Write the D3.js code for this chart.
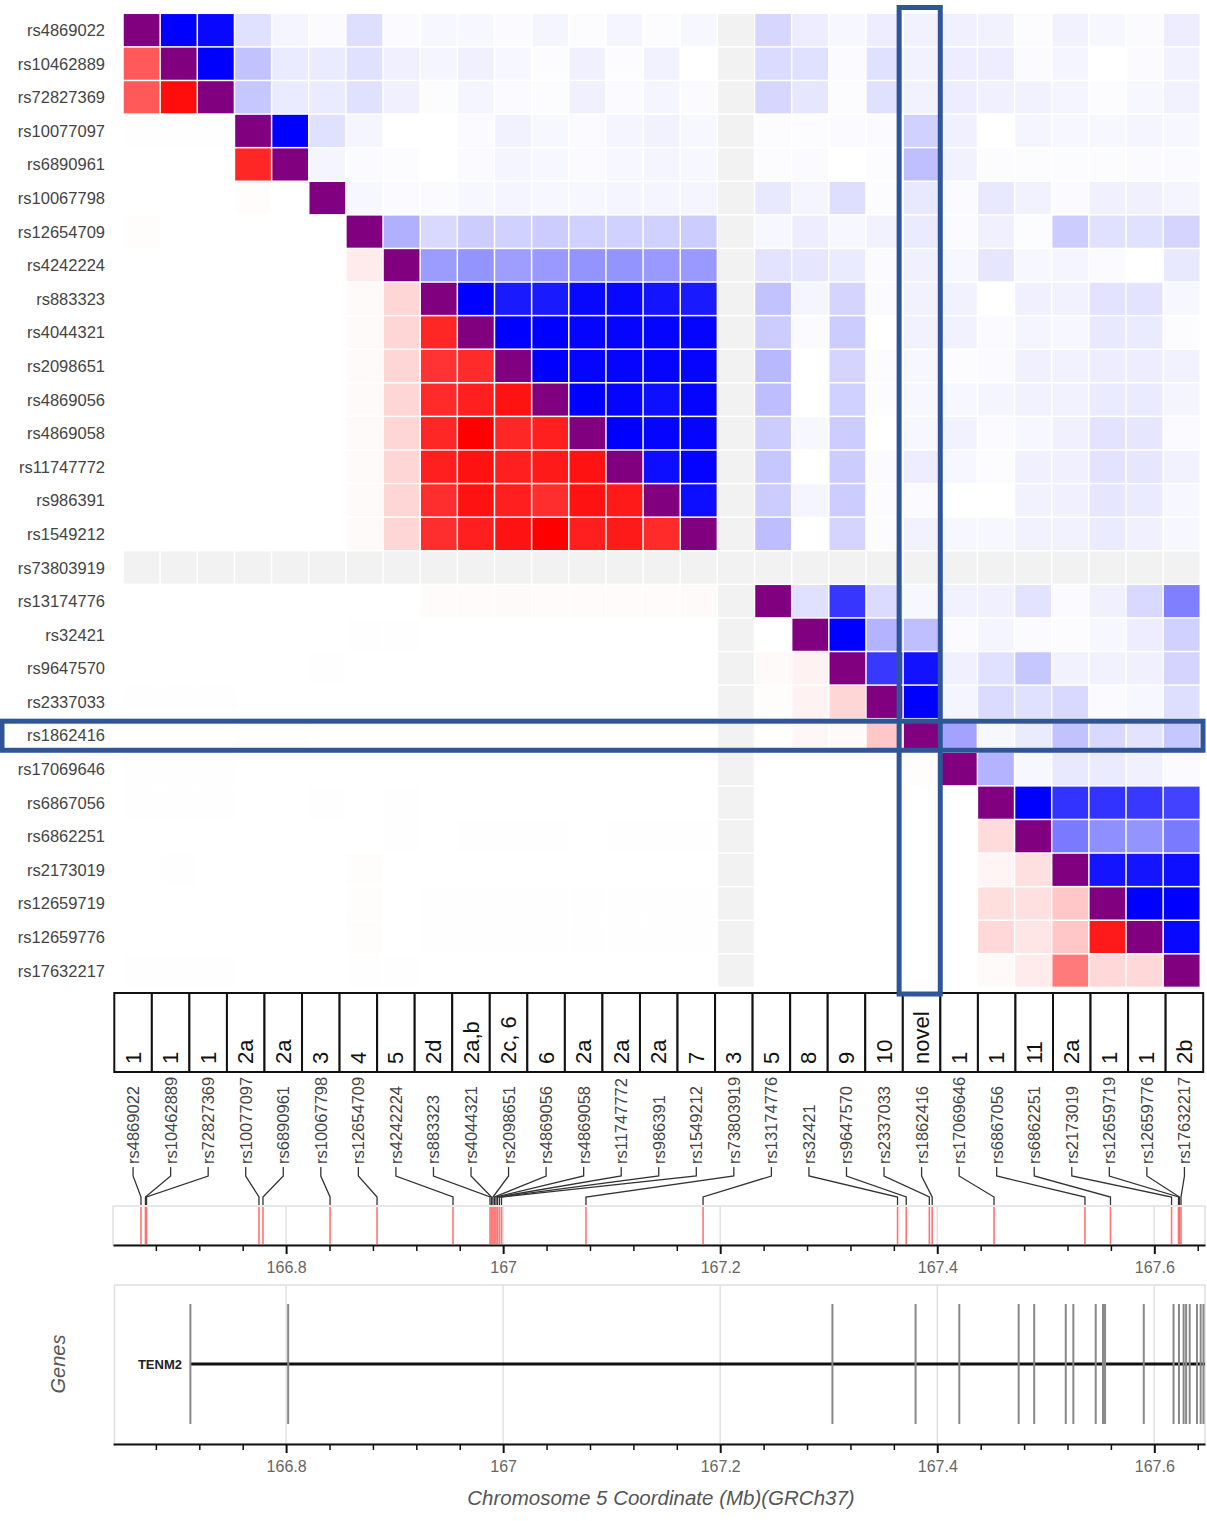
<!DOCTYPE html>
<html>
<head>
<meta charset="utf-8">
<script src="https://cdn.jsdelivr.net/npm/d3@7"></script>
<style>
  body { margin: 0; background: #fff; }
  text { font-family: "Liberation Sans", Arial, Helvetica, sans-serif; }
</style>
</head>
<body>
<svg id="chart" width="1207" height="1521"></svg>
<script>
// ---- SNPs in chromosome order ----
const snps = ["rs4869022","rs10462889","rs72827369","rs10077097","rs6890961","rs10067798",
  "rs12654709","rs4242224","rs883323","rs4044321","rs2098651","rs4869056","rs4869058",
  "rs11747772","rs986391","rs1549212","rs73803919","rs13174776","rs32421","rs9647570",
  "rs2337033","rs1862416","rs17069646","rs6867056","rs6862251","rs2173019","rs12659719",
  "rs12659776","rs17632217"];

// position of each SNP, Mb (GRCh37, chr5)
const snpPos = [166.6663,166.6704,166.6714,166.7750,166.7787,166.8405,166.8838,166.9538,
  166.9879,166.9893,166.9906,166.9920,166.9934,166.9948,166.9966,166.9985,167.0763,
  167.1842,167.3634,167.3714,167.3927,167.3953,167.4523,167.5361,167.5596,167.6159,
  167.6223,167.6232,167.6246];

// reported source / signal for each SNP
const sources = ["1","1","1","2a","2a","3","4","5","2d","2a,b","2c, 6","6","2a","2a","2a","7",
  "3","5","8","9","10","novel","1","1","11","2a","1","1","2b"];

// pairwise LD: above the diagonal D' (blue), below the diagonal r² (red); null = not available
const N = null, D = 1;
const ldMatrix = [
  [D,1.0,0.97,0.12,0.04,0.02,0.13,0.02,0.03,0.03,0.02,0.04,0.01,0.04,0.01,0.03,N,0.16,0.07,0.03,0.07,0.05,0.06,0.05,0.01,0.05,0.03,0.02,0.07],
  [0.65,D,1.0,0.24,0.08,0.08,0.12,0.06,0.04,0.06,0.03,0.01,0.06,0.01,0.05,0.0,N,0.14,0.12,0.02,0.12,0.05,0.07,0.07,0.02,0.04,0.0,0.02,0.05],
  [0.65,0.95,D,0.22,0.08,0.08,0.12,0.06,0.01,0.04,0.02,0.01,0.06,0.02,0.04,0.02,N,0.16,0.10,0.01,0.12,0.05,0.07,0.06,0.05,0.04,0.01,0.03,0.05],
  [0.005,0.005,0.005,D,1.0,0.12,0.04,0.0,0.0,0.02,0.05,0.03,0.02,0.04,0.05,0.03,N,0.01,0.01,0.02,0.02,0.18,0.06,0.0,0.04,0.03,0.03,0.04,0.03],
  [0,0,0,0.85,D,0.04,0.02,0.01,0.0,0.02,0.04,0.03,0.02,0.03,0.04,0.03,N,0.01,0.02,0.0,0.01,0.25,0.05,0.01,0.01,0.01,0.01,0.02,0.02],
  [0,0,0,0.01,0,D,0.03,0.02,0.02,0.03,0.04,0.03,0.03,0.04,0.04,0.04,N,0.09,0.04,0.13,0.01,0.09,0.02,0.09,0.05,0.02,0.06,0.06,0.04],
  [0.01,0,0,0,0,0,D,0.31,0.15,0.20,0.18,0.20,0.18,0.18,0.18,0.20,N,0.03,0.07,0.03,0.05,0.08,0.02,0.06,0.01,0.20,0.12,0.12,0.17],
  [0,0,0,0,0,0,0.08,D,0.39,0.42,0.38,0.40,0.42,0.42,0.40,0.40,N,0.11,0.10,0.08,0.02,0.06,0.03,0.10,0.03,0.04,0.02,0.0,0.09],
  [0,0,0,0,0,0,0.02,0.16,D,1.0,0.90,0.90,0.97,0.97,0.92,0.90,N,0.24,0.04,0.17,0.02,0.05,0.05,0.0,0.06,0.05,0.11,0.11,0.03],
  [0,0,0,0,0,0,0.02,0.16,0.85,D,1.0,1.0,0.98,0.98,0.98,0.98,N,0.20,0.02,0.20,0.0,0.05,0.05,0.02,0.04,0.03,0.09,0.08,0.01],
  [0,0,0,0,0,0,0.02,0.16,0.80,0.83,D,1.0,0.98,0.98,0.98,0.98,N,0.28,0.0,0.17,0.01,0.03,0.01,0.02,0.06,0.05,0.07,0.07,0.05],
  [0,0,0,0,0,0,0.02,0.16,0.83,0.88,0.93,D,1.0,0.98,0.94,0.98,N,0.26,0.0,0.18,0.01,0.03,0.03,0.04,0.05,0.05,0.08,0.08,0.04],
  [0,0,0,0,0,0,0.02,0.16,0.85,1.0,0.85,0.88,D,1.0,0.98,0.98,N,0.20,0.03,0.20,0.0,0.03,0.05,0.02,0.03,0.06,0.11,0.10,0.02],
  [0,0,0,0,0,0,0.02,0.16,0.88,0.93,0.88,0.90,0.93,D,0.95,0.99,N,0.22,0.0,0.20,0.02,0.07,0.03,0.01,0.06,0.06,0.11,0.10,0.05],
  [0,0,0,0,0,0,0.02,0.16,0.82,0.93,0.88,0.82,0.93,0.90,D,0.95,N,0.20,0.04,0.20,0.01,0.02,0.0,0.0,0.05,0.06,0.10,0.08,0.03],
  [0,0,0,0,0,0,0.02,0.16,0.82,0.88,0.93,1.0,0.88,0.90,0.83,D,N,0.26,0.0,0.17,0.01,0.05,0.03,0.03,0.05,0.05,0.08,0.06,0.03],
  [N,N,N,N,N,N,N,N,N,N,N,N,N,N,N,N,N,N,N,N,N,N,N,N,N,N,N,N,N],
  [0,0,0,0,0,0,0,0,0.015,0.015,0.02,0.015,0.015,0.015,0.015,0.02,N,D,0.12,0.79,0.14,0.03,0.05,0.06,0.11,0.02,0.06,0.15,0.50],
  [0,0,0,0,0,0,0.005,0.005,0,0,0,0,0,0,0,0,N,0.0,D,1.0,0.30,0.25,0.02,0.04,0.02,0.01,0.03,0.07,0.18],
  [0,0,0,0,0,0.005,0,0,0,0,0,0,0,0,0,0,N,0.02,0.05,D,0.78,0.93,0.06,0.12,0.22,0.05,0.05,0.06,0.17],
  [0.005,0.005,0.005,0,0,0,0,0,0,0,0,0,0,0,0,0,N,0.01,0.05,0.16,D,1.0,0.04,0.14,0.12,0.15,0.02,0.03,0.13],
  [0,0,0,0.005,0.005,0,0,0,0,0,0,0,0,0,0,0,N,0.0,0.03,0.02,0.22,D,0.36,0.03,0.08,0.24,0.15,0.11,0.22],
  [0.005,0.005,0.005,0,0,0,0,0,0,0,0,0,0,0,0,0,N,0,0,0,0,0.01,D,0.30,0.03,0.09,0.08,0.06,0.02],
  [0.005,0.005,0.005,0,0,0.005,0,0.005,0,0,0,0,0,0,0,0,N,0,0,0,0,0,0.0,D,1.0,0.80,0.80,0.78,0.74],
  [0,0,0,0,0,0,0,0.005,0,0.005,0.005,0.005,0,0.005,0.005,0.005,N,0,0,0,0,0,0.0,0.14,D,0.52,0.44,0.42,0.52],
  [0,0.005,0,0,0,0,0.01,0,0,0,0,0,0,0,0,0,N,0,0,0,0,0,0,0.04,0.12,D,0.92,0.92,0.94],
  [0,0,0,0,0,0,0.01,0,0.005,0.005,0.005,0.005,0.005,0.005,0.005,0.005,N,0,0,0,0,0,0,0.13,0.12,0.22,D,1.0,1.0],
  [0,0,0,0,0,0,0.01,0,0.005,0.005,0.005,0.005,0.005,0.005,0.005,0.005,N,0,0,0,0,0,0,0.15,0.10,0.22,0.90,D,0.97],
  [0.005,0.005,0.005,0,0,0,0.005,0.005,0,0,0,0,0,0,0,0,N,0,0,0,0,0,0,0.02,0.08,0.52,0.15,0.15,D]
];

// gene track
const geneName = "TENM2";
const geneStart = 166.7114;
const geneEnd = 167.70;
const exons = [166.7118,166.8019,167.3034,167.3800,167.4203,167.4750,167.4893,167.5184,
  167.5254,167.5460,167.5527,167.5546,167.5903,167.6177,167.6227,167.6270,167.6293,
  167.6326,167.6393,167.6427,167.6453];

// axis ticks (Mb)
const majorTicks = [166.8, 167.0, 167.2, 167.4, 167.6];
const majorTickLabels = ["166.8", "167", "167.2", "167.4", "167.6"];
const minorTicks = [166.68,166.72,166.76,166.84,166.88,166.92,166.96,167.04,167.08,167.12,
  167.16,167.24,167.28,167.32,167.36,167.44,167.48,167.52,167.56,167.64];

const highlighted = 21; // rs1862416

// ---- layout ----
const svg = d3.select("#chart");
const n = snps.length;
const idx = d3.range(n);

const xCell = d3.scaleBand().domain(idx).range([123, 1200.3]);
const yCell = d3.scaleBand().domain(idx).range([13.3, 987.4]);
const xBox = d3.scaleBand().domain(idx).range([114.3, 1203.2]);
const xMb = d3.scaleLinear().domain([166.6405, 167.6467]).range([113, 1205]).clamp(true);

const blue = d3.interpolateRgb("#ffffff", "#0000ff");
const red = d3.interpolateRgb("#ffffff", "#ff0000");
const cellColor = (v, i, j) => {
  if (v === null) return "#f2f2f2";
  if (i === j) return "#800080";
  return i < j ? blue(v) : red(v);
};

// ---- LD heatmap ----
const cells = [];
ldMatrix.forEach((row, i) => row.forEach((v, j) => cells.push({ i, j, v })));
const gap = 0.75;
svg.append("g").selectAll("rect").data(cells).join("rect")
  .attr("x", d => xCell(d.j) + gap)
  .attr("y", d => yCell(d.i) + gap)
  .attr("width", xCell.bandwidth() - 2 * gap)
  .attr("height", yCell.bandwidth() - 2 * gap)
  .attr("fill", d => cellColor(d.v, d.i, d.j));

// row labels
svg.append("g").selectAll("text").data(snps).join("text")
  .attr("x", 105)
  .attr("y", (d, i) => yCell(i) + yCell.bandwidth() / 2)
  .attr("text-anchor", "end")
  .attr("dominant-baseline", "central")
  .attr("font-size", 16.5)
  .attr("fill", "#444")
  .text(d => d);

// ---- source boxes ----
const boxTop = 993, boxH = 79;
const boxes = svg.append("g");
boxes.selectAll("rect").data(sources).join("rect")
  .attr("x", (d, i) => xBox(i))
  .attr("y", boxTop)
  .attr("width", xBox.bandwidth())
  .attr("height", boxH)
  .attr("fill", "#fff")
  .attr("stroke", "#111")
  .attr("stroke-width", 2);
boxes.selectAll("text").data(sources).join("text")
  .attr("transform", (d, i) => `translate(${xBox(i) + xBox.bandwidth() / 2},${boxTop + boxH - 8}) rotate(-90)`)
  .attr("text-anchor", "start")
  .attr("dominant-baseline", "central")
  .attr("font-size", 22)
  .attr("fill", "#111")
  .text(d => d);

// ---- SNP names under the boxes ----
svg.append("g").selectAll("text").data(snps).join("text")
  .attr("transform", (d, i) => `translate(${xBox(i) + xBox.bandwidth() / 2},1164) rotate(-90)`)
  .attr("text-anchor", "start")
  .attr("dominant-baseline", "central")
  .attr("font-size", 16.5)
  .attr("fill", "#444")
  .text(d => d);

// connectors from names to genomic positions
svg.append("g").selectAll("path").data(snps).join("path")
  .attr("d", (d, i) => {
    const cx = xBox(i) + xBox.bandwidth() / 2;
    const px = xMb(snpPos[i]);
    return `M${cx},1167 V1176 L${px},1197 V1205`;
  })
  .attr("fill", "none")
  .attr("stroke", "#333")
  .attr("stroke-width", 1.3);

// ---- SNP position track ----
const trackTop = 1206, trackBottom = 1245;
svg.append("rect")
  .attr("x", 113).attr("y", trackTop)
  .attr("width", 1092).attr("height", trackBottom - trackTop)
  .attr("fill", "#fff").attr("stroke", "#e0e0e0").attr("stroke-width", 1.5);
svg.append("g").selectAll("line").data(majorTicks).join("line")
  .attr("x1", d => xMb(d)).attr("x2", d => xMb(d))
  .attr("y1", trackTop).attr("y2", trackBottom)
  .attr("stroke", "#e2e2e2").attr("stroke-width", 1.5);
svg.append("g").selectAll("line").data(snpPos).join("line")
  .attr("x1", d => xMb(d)).attr("x2", d => xMb(d))
  .attr("y1", trackTop + 1).attr("y2", trackBottom - 1)
  .attr("stroke", "#ff5c5c").attr("stroke-opacity", 0.85).attr("stroke-width", 1.6);

function drawAxis(y) {
  const g = svg.append("g").attr("transform", `translate(0,${y})`);
  g.append("g")
    .call(d3.axisBottom(xMb).tickValues(minorTicks).tickSize(6).tickSizeOuter(0).tickFormat(""))
    .call(a => a.select(".domain").attr("stroke", "#111").attr("stroke-width", 2))
    .call(a => a.selectAll(".tick line").attr("stroke", "#111").attr("stroke-width", 1.5));
  g.append("g")
    .call(d3.axisBottom(xMb).tickValues(majorTicks).tickSize(9).tickSizeOuter(0).tickPadding(8)
      .tickFormat((d, i) => majorTickLabels[i]))
    .call(a => a.select(".domain").remove())
    .call(a => a.selectAll(".tick line").attr("stroke", "#111").attr("stroke-width", 2))
    .call(a => a.selectAll(".tick text")
      .attr("font-size", 16).attr("fill", "#666")
      .attr("font-family", '"Liberation Sans", Arial, sans-serif'));
}
drawAxis(trackBottom);

// ---- gene track ----
const geneTop = 1285, geneBottom = 1444, geneY = 1364;
svg.append("rect")
  .attr("x", 114.5).attr("y", geneTop)
  .attr("width", 1090.5).attr("height", geneBottom - geneTop)
  .attr("fill", "#fff").attr("stroke", "#e0e0e0").attr("stroke-width", 1.5);
svg.append("g").selectAll("line").data(majorTicks).join("line")
  .attr("x1", d => xMb(d)).attr("x2", d => xMb(d))
  .attr("y1", geneTop).attr("y2", geneBottom)
  .attr("stroke", "#e2e2e2").attr("stroke-width", 1.5);
svg.append("line")
  .attr("x1", xMb(geneStart)).attr("x2", xMb(geneEnd))
  .attr("y1", geneY).attr("y2", geneY)
  .attr("stroke", "#111").attr("stroke-width", 3);
svg.append("g").selectAll("line").data(exons).join("line")
  .attr("x1", d => xMb(d)).attr("x2", d => xMb(d))
  .attr("y1", 1304).attr("y2", 1424)
  .attr("stroke", "#888").attr("stroke-width", 2);
svg.append("text")
  .attr("x", xMb(geneStart) - 8).attr("y", geneY)
  .attr("text-anchor", "end").attr("dominant-baseline", "central")
  .attr("font-size", 13).attr("font-weight", "bold").attr("fill", "#222")
  .text(geneName);
svg.append("text")
  .attr("transform", `translate(58,${geneY}) rotate(-90)`)
  .attr("text-anchor", "middle").attr("dominant-baseline", "central")
  .attr("font-size", 20).attr("font-style", "italic").attr("fill", "#555")
  .text("Genes");
drawAxis(geneBottom);

svg.append("text")
  .attr("x", 661).attr("y", 1497)
  .attr("text-anchor", "middle").attr("dominant-baseline", "central")
  .attr("font-size", 20.5).attr("font-style", "italic").attr("fill", "#555")
  .text("Chromosome 5 Coordinate (Mb)(GRCh37)");

// ---- highlight of the novel SNP (row and column) ----
const hl = svg.append("g").attr("fill", "none").attr("stroke", "#2f5597").attr("stroke-width", 5);
hl.append("rect")
  .attr("x", xCell(highlighted) - 4)
  .attr("y", 7.5)
  .attr("width", xCell.bandwidth() + 4)
  .attr("height", 994 - 7.5);
hl.append("rect")
  .attr("x", 2)
  .attr("y", yCell(highlighted) + 2.5)
  .attr("width", 1201)
  .attr("height", yCell.bandwidth() - 4.5);
</script>
</body>
</html>
